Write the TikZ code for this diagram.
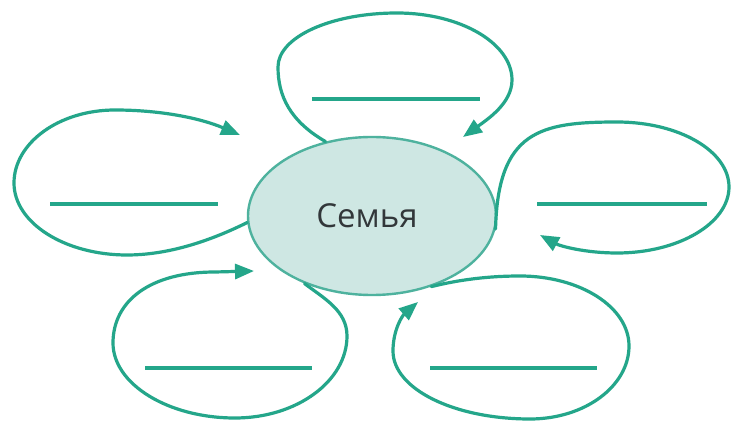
\documentclass[tikz,border=0pt]{standalone}
\usepackage{fontspec}
\newfontfamily\labelfont{Open Sans}
\usetikzlibrary{shapes.geometric,arrows.meta}
\definecolor{teal1}{RGB}{36,166,138}
\definecolor{tealb}{RGB}{78,178,158}
\definecolor{tealf}{RGB}{206,231,227}
\definecolor{txt}{RGB}{50,55,58}
\tikzset{
  loopline/.style={draw=teal1,line width=3.2pt,line cap=round,line join=round,-{Triangle[length=19pt,width=15pt]}},
  blank/.style={draw=teal1,line width=3.4pt},
  centre/.style={ellipse,draw=tealb,fill=tealf,line width=2.4pt,minimum width=248pt,minimum height=158pt,inner sep=0pt,text=txt,font=\labelfont\fontsize{33}{40}\selectfont}
}
\begin{document}
\begin{tikzpicture}[x=1pt,y=1pt]
\useasboundingbox[fill=white] (0,0) rectangle (732,421);
\node[centre] (c) at (372,205) {Семья\hspace*{10pt}};
% arrow tips
\coordinate (ttip) at (463,284);
\coordinate (ltip) at (240,286);
\coordinate (rtip) at (540,186);
\coordinate (bltip) at (254,150);
\coordinate (brtip) at (418,119);
% top loop
\draw[loopline] (c.122) .. controls (290,300) and (278,325) .. (278,354)
  .. controls (278,384) and (331,408) .. (397,408)
  .. controls (460,408) and (512,378) .. (512,341)
  .. controls (512,318) and (488,302) .. (ttip);
% left loop
\draw[loopline] (c.183) .. controls (220,185) and (175,166) .. (127,166)
  .. controls (65,166) and (14,198) .. (14,238)
  .. controls (14,278) and (59,311) .. (115,311)
  .. controls (160,311) and (200,303) .. (ltip);
% right loop
\draw[loopline] (c.-6) .. controls (498,290) and (540,299) .. (617,299)
  .. controls (679,299) and (729,270) .. (729,234)
  .. controls (729,198) and (679,168) .. (617,168)
  .. controls (585,168) and (560,175) .. (rtip);
% bottom-left loop
\draw[loopline] (c.225) .. controls (325,122) and (347,110) .. (347,85)
  .. controls (347,40) and (297,3) .. (235,3)
  .. controls (168,3) and (113,37) .. (113,78)
  .. controls (113,120) and (150,149) .. (215,149)
  -- (bltip);
% bottom-right loop
\draw[loopline] (c.-50) .. controls (450,139) and (480,145) .. (520,145)
  .. controls (580,145) and (629,114) .. (629,75)
  .. controls (629,35) and (585,2) .. (530,2)
  .. controls (454,2) and (393,32) .. (393,70)
  .. controls (393,92) and (403,106) .. (brtip);
% blank lines
\coordinate (t1) at (312,322); \coordinate (t2) at (480,322);
\coordinate (l1) at (50,217);  \coordinate (l2) at (218,217);
\coordinate (r1) at (537,217); \coordinate (r2) at (707,217);
\coordinate (bl1) at (145,53); \coordinate (bl2) at (312,53);
\coordinate (br1) at (430,53); \coordinate (br2) at (597,53);
\draw[blank] (t1) -- (t2);
\draw[blank] (l1) -- (l2);
\draw[blank] (r1) -- (r2);
\draw[blank] (bl1) -- (bl2);
\draw[blank] (br1) -- (br2);
\end{tikzpicture}
\end{document}
